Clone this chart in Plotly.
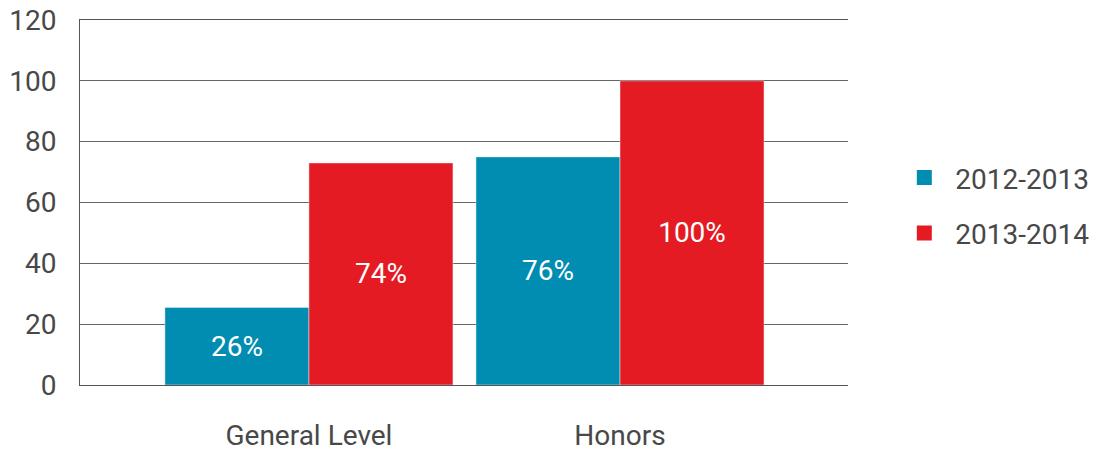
import plotly.graph_objects as go

categories = ["General Level", "Honors"]
series_names = ["2012-2013", "2013-2014"]
values_2012 = [25.5, 75]
values_2013 = [73, 100]
labels_2012 = ["26%", "76%"]
labels_2013 = ["74%", "100%"]
y_ticks = [0, 20, 40, 60, 80, 100, 120]

BLUE = "#018DB2"
RED = "#E51B24"
FONT = "Roboto, sans-serif"

fig = go.Figure()
fig.add_trace(go.Bar(x=categories, y=values_2012, name=series_names[0], marker_color=BLUE,
                     text=labels_2012, textposition="inside", insidetextanchor="middle",
                     textfont=dict(color="white", size=28, family=FONT), showlegend=False))
fig.add_trace(go.Bar(x=categories, y=values_2013, name=series_names[1], marker_color=RED,
                     text=labels_2013, textposition="inside", insidetextanchor="middle",
                     textfont=dict(color="white", size=28, family=FONT), showlegend=False))
for nm, col in zip(series_names, [BLUE, RED]):
    fig.add_trace(go.Scatter(x=[None], y=[None], mode="markers", name=nm, legendgroup=nm,
                             marker=dict(symbol="square", size=15, color=col)))

fig.update_layout(
    width=1096, height=451,
    margin=dict(l=80, r=248, t=20, b=66, autoexpand=False),
    paper_bgcolor="white", plot_bgcolor="white",
    barmode="group", bargap=0.074, bargroupgap=0,
    uniformtext=dict(mode=False),
    font=dict(family=FONT, color="#484848", size=28),
    legend=dict(x=1.059, y=0.492, xanchor="left", yanchor="middle",
                font=dict(size=28, family=FONT, color="#484848"),
                itemwidth=52, tracegroupgap=16, traceorder="grouped"),
)
fig.update_xaxes(range=[-0.736, 1.733], showgrid=False, showline=True, mirror=True,
                 linecolor="#555555", linewidth=1, ticks="", automargin=False,
                 ticklabeloverflow="allow",
                 ticklabelstandoff=25, tickfont=dict(size=28, family=FONT, color="#484848"))
fig.update_yaxes(range=[0, 120], tickvals=y_ticks, showgrid=True, gridcolor="#666666", gridwidth=1,
                 zeroline=True, zerolinecolor="#777777", zerolinewidth=1,
                 showline=True, linecolor="#555555", linewidth=1,
                 ticks="", ticklabelstandoff=17, automargin=False,
                 ticklabeloverflow="allow",
                 tickfont=dict(size=28, family=FONT, color="#484848"))

# remove the default 8px page margin so the figure fills the window exactly
fig.write_html("out.html", config={"displayModeBar": False},
               post_script="document.body.style.margin='0';")
